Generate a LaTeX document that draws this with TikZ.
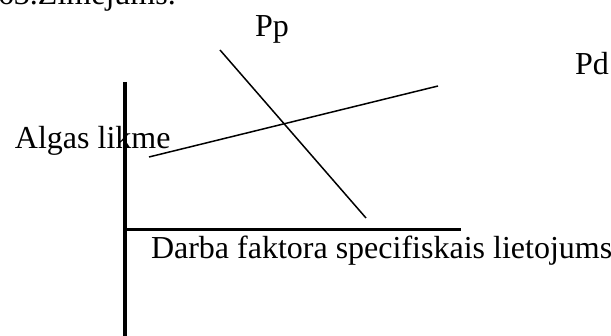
\documentclass[tikz,border=0pt]{standalone}
\usepackage{fontspec}
\setmainfont{Liberation Serif}
\begin{document}
\begin{tikzpicture}[x=1pt,y=-1pt,
  axisline/.style={line width=3.4pt},
  curveline/.style={line width=1.5pt},
  lbl/.style={anchor=base west,inner sep=0pt,outer sep=0pt,font=\fontsize{32}{38}\selectfont}]
\useasboundingbox (0,0) rectangle (611,336);
% caption (cropped at top)
\node[lbl] (cap) at (-2,5) {63.Zīmējums.};
% axes
\coordinate (ytop) at (125,82);
\coordinate (ybot) at (125,340);
\coordinate (xl) at (123.3,229.5);
\coordinate (xr) at (461,229.5);
\draw[axisline] (ytop) -- (ybot);
\draw[axisline] (xl) -- (xr);
% Pp line
\coordinate (pp1) at (220,50);
\coordinate (pp2) at (366,218);
\draw[curveline] (pp1) -- (pp2);
% Pd line
\coordinate (pd1) at (149,157);
\coordinate (pd2) at (438,86);
\draw[curveline] (pd1) -- (pd2);
% labels
\node[lbl] (pp) at (255,37) {Pp};
\node[lbl] (pd) at (575,75) {Pd};
\node[lbl] (alg) at (15,149) {Algas likme};
\node[lbl] (darba) at (151,259) {Darba faktora specifiskais lietojums};
\end{tikzpicture}
\end{document}
